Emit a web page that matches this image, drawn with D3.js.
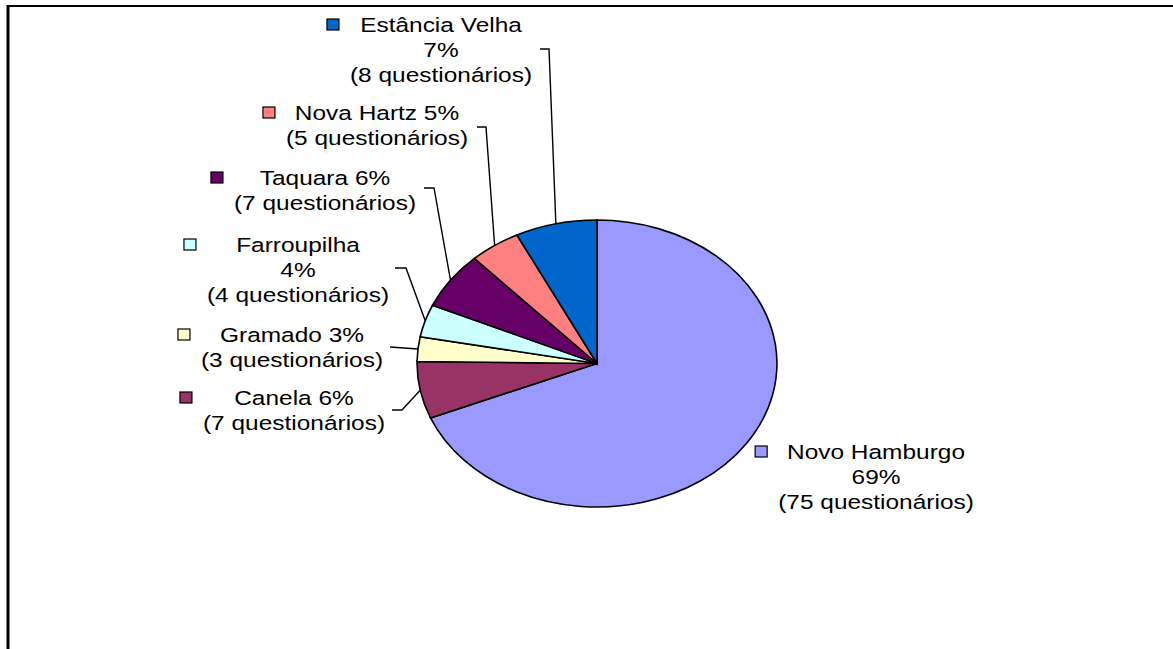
<!DOCTYPE html>
<html>
<head>
<meta charset="utf-8">
<script src="https://cdn.jsdelivr.net/npm/d3@7"></script>
<style>
  html, body { margin: 0; padding: 0; background: #fff; }
  svg { display: block; }
  text { font-family: "Liberation Sans", Arial, sans-serif; fill: #000; }
</style>
</head>
<body>
<svg id="chart" width="1173" height="649"></svg>
<script>
// Respondents per municipality (questionnaires returned)
const cities = ["Novo Hamburgo", "Canela", "Gramado", "Farroupilha", "Taquara", "Nova Hartz", "Estância Velha"];
const counts = [75, 7, 3, 4, 7, 5, 8];
const colors = ["#9999FF", "#993366", "#FFFFCC", "#CCFFFF", "#660066", "#FF8080", "#0066CC"];

// Label placement: text block centre, first baseline, whether name and percentage share a line,
// and where each leader line leaves the label (with its short horizontal elbow)
const labelLayout = [
  { cx: 876, y: 459, oneLine: false, leader: null },
  { cx: 294, y: 405, oneLine: true,  leader: { x: 392, y: 410, elbow: 402 } },
  { cx: 292, y: 342, oneLine: true,  leader: { x: 390, y: 347, elbow: 390 } },
  { cx: 298, y: 252, oneLine: false, leader: { x: 395, y: 268, elbow: 406 } },
  { cx: 325, y: 185, oneLine: true,  leader: { x: 424, y: 188, elbow: 434 } },
  { cx: 377, y: 120, oneLine: true,  leader: { x: 477, y: 127, elbow: 486 } },
  { cx: 441, y: 32,  oneLine: false, leader: { x: 540, y: 49,  elbow: 549 } }
];

const W = 1173, H = 649;
const cx = 597, cy = 363.5;
const r = 143.5;          // vertical radius
const sx = 1.254;         // horizontal stretch of the whole chart
const fontSize = 19.5;
const lineH = 25;

const svg = d3.select("#chart");

// frame lines (top and left)
svg.append("line").attr("x1", 8).attr("y1", 6).attr("x2", W).attr("y2", 6)
  .attr("stroke", "#000").attr("stroke-width", 2);
svg.append("line").attr("x1", 8).attr("y1", 5).attr("x2", 8).attr("y2", H)
  .attr("stroke", "#000").attr("stroke-width", 3);

const total = d3.sum(counts);
const data = cities.map((c, i) => ({ city: c, count: counts[i], color: colors[i], layout: labelLayout[i] }));

const pie = d3.pie().value(d => d.count).sort(null).startAngle(0).endAngle(2 * Math.PI);
const arcs = pie(data);
const arc = d3.arc().innerRadius(0).outerRadius(r);

const pieG = svg.append("g").attr("transform", `translate(${cx},${cy}) scale(${sx},1)`);
pieG.selectAll("path").data(arcs).join("path")
  .attr("d", arc)
  .attr("fill", d => d.data.color)
  .attr("stroke", "#000")
  .attr("stroke-width", 1.6)
  .attr("vector-effect", "non-scaling-stroke");

// point on the slice rim at its mid angle, in page coordinates
function rimPoint(a) {
  const m = (a.startAngle + a.endAngle) / 2;
  return [cx + sx * r * Math.sin(m), cy - r * Math.cos(m)];
}

// leader lines
const leaderG = svg.append("g");
arcs.forEach(a => {
  const L = a.data.layout.leader;
  if (!L) return;
  const [px, py] = rimPoint(a);
  leaderG.append("path")
    .attr("d", d3.line()([[L.x, L.y], [L.elbow, L.y], [px, py]]))
    .attr("fill", "none").attr("stroke", "#000").attr("stroke-width", 1.4);
});

// labels with legend keys
const labelG = svg.append("g");
arcs.forEach(a => {
  const d = a.data, lay = d.layout;
  const pct = Math.round(d.count / total * 100) + "%";
  const q = `(${d.count} questionários)`;
  const lines = lay.oneLine ? [`${d.city} ${pct}`, q] : [d.city, pct, q];
  let maxW = 0;
  lines.forEach((t, i) => {
    const tx = labelG.append("text")
      .attr("transform", `translate(${lay.cx},${lay.y + i * lineH}) scale(${sx},1)`)
      .attr("text-anchor", "middle")
      .attr("font-size", fontSize)
      .text(t);
    maxW = Math.max(maxW, tx.node().getComputedTextLength() * sx);
  });
  labelG.append("rect")
    .attr("x", lay.cx - maxW / 2 - 23)
    .attr("y", lay.y - 13)
    .attr("width", 12).attr("height", 11)
    .attr("fill", d.color)
    .attr("stroke", "#000").attr("stroke-width", 1.2);
});
</script>
</body>
</html>
